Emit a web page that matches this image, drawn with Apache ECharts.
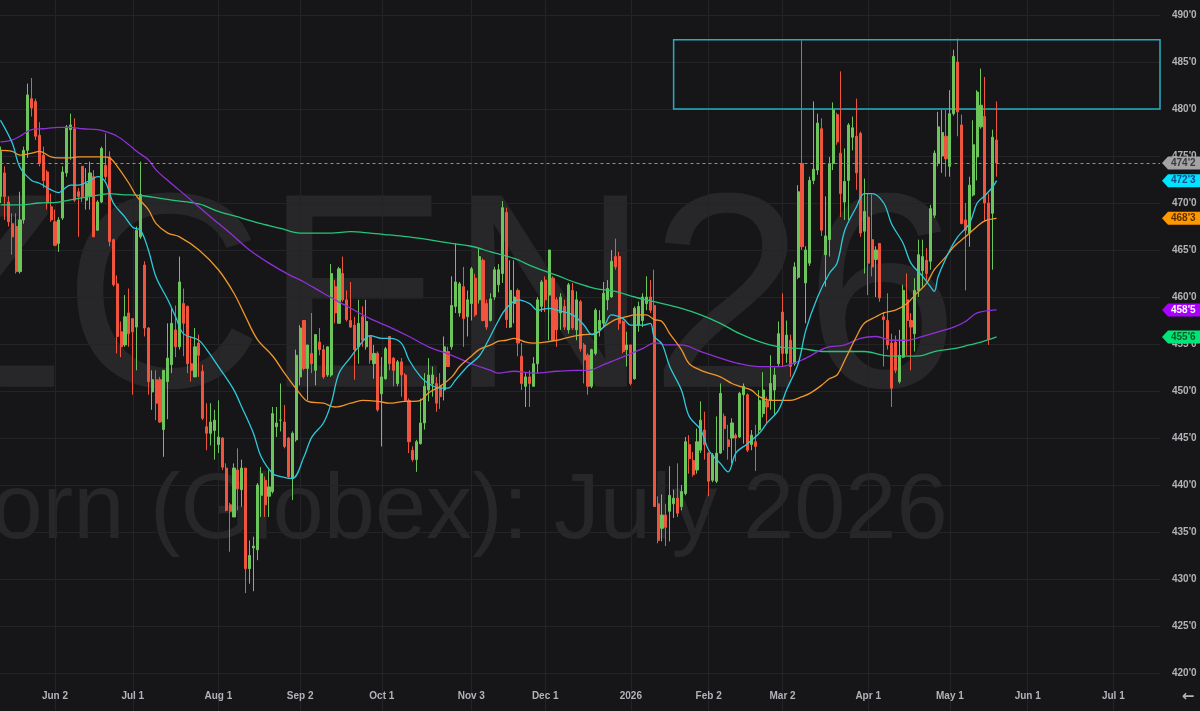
<!DOCTYPE html>
<html><head><meta charset="utf-8">
<script src="https://cdn.jsdelivr.net/npm/echarts@6/dist/echarts.min.js"></script>
<style>html,body{margin:0;padding:0;background:#161618;}#c{width:1200px;height:711px;}</style>
</head><body><div id="c"></div>
<script>
// ---------- data ----------
const firstDay = [2025, 4, 12];          // 2025-05-12 (month 0-based)
const totalSlots = 299;                  // trading-day slots on the axis (incl. future)
const holidays = ['2025-05-26','2025-06-19','2025-07-04','2025-09-01','2025-11-27','2025-12-25',
  '2026-01-01','2026-01-19','2026-02-16','2026-04-03','2026-05-25'];
const monthNames = ['Jan','Feb','Mar','Apr','May','Jun','Jul','Aug','Sep','Oct','Nov','Dec'];

// [open, close, low, high]
const candles = [
[470.7,475.5,470.0,476.0],[473.2,470.7,468.2,473.9],[470.1,468.0,467.5,470.7],[467.8,466.4,464.5,468.9],[467.5,462.7,462.5,468.9],
[462.7,468.2,462.5,471.2],[468.2,475.6,467.8,476.0],[475.6,481.5,474.8,482.7],[481.1,480.1,479.2,483.3],[480.8,477.1,476.7,481.1],
[477.2,474.2,473.9,478.6],[475.1,472.4,471.6,476.0],[473.3,470.0,469.3,473.5],[469.6,468.2,468.0,471.0],[468.0,465.5,465.4,469.3],
[465.7,468.2,464.8,468.5],[468.4,473.3,468.2,473.9],[473.2,478.1,472.8,478.3],[477.8,478.3,474.6,479.5],[477.9,470.3,470.1,479.0],
[471.2,470.7,466.4,471.6],[473.9,470.7,470.1,473.9],[470.3,472.1,469.3,473.7],[470.7,473.2,469.3,474.4],[472.8,466.4,466.4,473.5],
[467.1,470.1,467.1,470.3],[470.1,475.8,470.0,476.0],[474.0,472.8,472.4,477.4],[474.9,465.9,465.4,475.5],[466.1,461.3,461.1,466.2],
[461.4,455.8,454.0,462.3],[456.3,454.7,453.6,457.4],[454.9,457.9,454.7,460.2],[458.3,456.1,454.7,460.9],[457.7,456.3,449.6,457.7],
[456.8,467.1,452.2,467.5],[466.4,470.9,466.2,474.4],[463.4,456.7,455.8,463.8],[456.7,451.0,449.6,456.8],[449.9,451.2,448.0,452.2],
[451.2,448.7,446.9,452.2],[451.2,446.7,446.6,451.5],[445.9,452.2,443.0,452.2],[451.0,453.5,447.0,457.2],[452.8,457.2,451.9,458.8],
[456.5,454.7,453.6,459.1],[454.7,461.6,454.4,464.3],[459.3,457.2,453.7,460.9],[459.0,452.9,451.9,459.1],[452.9,452.2,451.0,455.8],
[451.5,454.7,451.5,456.7],[455.1,453.8,451.5,456.0],[452.1,447.1,446.9,452.8],[446.2,445.5,443.7,448.7],[445.5,446.7,444.2,448.7],
[445.8,446.9,442.7,448.0],[444.3,445.1,443.4,449.0],[445.0,441.9,441.6,445.1],[441.8,437.3,437.2,442.3],[437.9,437.2,432.9,438.1],
[436.6,441.8,436.6,442.3],[441.6,439.6,437.3,443.9],[439.5,441.8,437.7,442.7],[441.8,431.1,428.5,441.8],[431.1,432.5,429.5,434.1],
[433.3,433.5,428.7,434.5],[433.1,440.0,432.0,440.2],[438.9,441.2,436.6,441.9],[440.5,437.9,436.6,440.9],[438.8,439.8,436.6,441.6],
[439.3,447.6,439.1,448.3],[446.2,446.6,445.1,448.3],[446.9,446.9,445.7,450.8],[446.7,444.1,443.9,448.5],[445.0,440.9,440.7,445.1],
[440.7,445.5,438.4,445.7],[444.8,453.8,444.6,454.4],[451.5,456.7,450.6,457.0],[457.5,452.4,452.2,457.5],[452.4,454.9,449.0,454.9],
[454.0,452.9,451.9,458.3],[452.2,456.0,450.6,456.0],[455.2,454.4,453.8,456.7],[454.4,451.5,451.3,454.9],[451.7,454.7,451.5,454.7],
[451.7,462.5,451.5,463.5],[461.1,458.3,457.2,461.8],[457.2,463.0,457.2,463.2],[462.5,459.7,459.5,464.3],[459.7,457.6,457.4,460.7],
[457.5,456.8,456.7,461.6],[457.0,454.4,451.2,457.9],[454.7,457.2,452.9,459.7],[457.9,455.4,454.7,459.0],[454.7,457.4,454.4,459.7],
[455.8,453.3,452.9,455.9],[452.9,454.0,451.3,454.9],[454.0,448.0,447.8,454.2],[449.7,451.5,444.1,453.6],[451.3,454.5,451.2,454.7],
[455.8,452.9,452.2,455.8],[453.5,452.2,450.5,453.6],[450.8,453.1,450.5,453.3],[453.1,451.7,449.4,453.5],[451.7,449.0,448.9,451.9],
[449.0,444.6,443.4,449.2],[443.7,442.7,442.5,444.1],[442.7,444.6,441.4,444.8],[444.4,446.6,444.3,449.2],[446.6,450.5,445.9,451.9],
[450.1,451.7,448.9,453.5],[450.8,451.7,449.4,452.6],[450.8,448.7,447.8,451.5],[450.6,449.4,448.1,451.9],[450.1,454.7,449.0,455.8],
[454.2,452.6,452.6,454.7],[454.7,459.1,454.4,462.2],[459.0,461.6,458.3,465.7],[458.3,461.4,457.9,461.6],[461.1,457.7,454.7,463.2],
[457.9,459.7,455.8,460.7],[459.3,463.0,457.5,463.2],[462.0,458.1,457.9,462.5],[459.7,464.3,459.3,465.2],[463.9,457.5,457.4,464.1],
[459.3,456.8,456.5,459.7],[457.5,459.8,457.4,460.4],[460.0,462.9,459.7,463.2],[461.3,462.9,460.5,463.5],[462.5,469.5,461.5,470.2],
[469.0,457.6,456.7,469.5],[456.8,460.7,456.7,463.9],[459.3,460.0,457.2,463.9],[460.7,455.1,453.7,460.9],[453.7,450.8,450.1,455.1],
[450.5,451.5,448.3,451.9],[451.5,450.8,448.3,452.2],[450.5,452.9,450.5,453.6],[452.9,459.7,451.9,460.0],[459.0,461.6,458.4,461.8],
[461.8,459.7,458.4,462.2],[460.2,465.0,455.4,465.0],[462.0,455.4,455.3,462.2],[459.7,456.5,454.7,460.0],[458.3,460.0,456.5,460.4],
[459.0,456.8,456.5,459.7],[456.5,461.3,456.1,461.5],[460.7,456.7,456.5,461.5],[456.5,459.7,455.4,460.6],[459.5,454.5,454.2,459.7],
[454.9,453.3,450.8,455.1],[453.8,450.5,449.6,454.0],[450.5,454.4,450.3,454.5],[454.0,458.6,453.8,458.8],[456.5,457.5,455.8,458.6],
[457.2,460.4,456.8,461.6],[459.7,460.9,458.6,461.8],[460.0,463.8,459.9,465.0],[464.3,463.2,462.9,466.2],[464.3,457.2,456.5,464.8],
[457.4,454.2,454.0,457.5],[454.4,454.9,452.6,456.3],[454.9,450.8,450.6,454.9],[451.3,458.8,451.2,459.0],[457.0,459.0,456.3,459.5],
[457.5,460.0,456.8,460.4],[459.3,460.0,458.6,462.2],[460.0,458.6,458.3,461.8],[459.1,437.7,437.7,462.9],[438.0,434.1,433.8,438.8],
[435.4,436.8,434.0,439.0],[436.8,435.5,433.5,438.0],[437.2,438.9,434.0,442.0],[438.0,438.6,436.5,439.5],[438.6,437.0,436.6,442.3],
[437.7,439.3,437.3,440.0],[439.1,444.6,438.9,445.1],[444.3,442.8,441.2,445.3],[442.6,441.1,440.9,443.5],[441.6,444.6,441.2,446.0],
[443.7,446.9,443.4,448.9],[445.85,444.3,442.7,447.8],[443.4,440.4,438.8,443.5],[440.5,443.2,440.3,443.4],[440.4,443.4,440.2,447.3],
[443.4,449.75,443.3,450.8],[447.3,446.0,443.7,447.6],[444.8,444.1,442.7,446.4],[445.0,446.6,442.3,447.1],[445.3,445.0,442.5,445.5],
[445.1,449.75,445.0,449.9],[449.6,450.5,444.4,450.8],[449.6,443.7,443.5,449.75],[444.3,445.3,443.7,445.85],[444.6,444.1,441.5,446.4],
[445.85,449.0,445.5,450.1],[447.6,450.1,447.2,452.0],[448.9,448.3,446.6,449.4],[449.0,450.8,448.0,453.8],[450.1,451.7,447.5,452.5],
[452.9,456.1,452.6,457.4],[458.4,454.0,452.6,460.4],[454.0,455.95,453.0,457.5],[455.4,452.6,451.5,456.0],[452.9,463.2,452.7,463.7],
[462.1,471.2,461.9,471.9],[474.2,465.35,465.0,487.3],[461.5,465.0,457.2,465.4],[463.6,472.4,463.3,472.8],[472.4,473.6,472.0,480.8],
[473.5,478.5,473.0,479.5],[477.9,467.1,466.5,479.0],[464.5,466.5,461.1,470.7],[466.1,474.2,464.3,474.9],[474.2,479.9,473.5,480.7],
[479.4,476.5,476.2,479.6],[475.3,471.0,468.5,484.0],[470.1,472.3,468.2,475.8],[472.4,478.3,468.2,478.5],[477.0,478.0,475.6,479.2],
[477.1,473.2,471.4,481.1],[477.4,466.8,466.4,477.6],[467.0,469.1,462.5,472.6],[468.5,463.6,460.2,471.0],[466.1,463.2,462.2,470.9],
[464.0,465.0,460.0,465.4],[465.7,459.9,459.5,465.7],[457.9,457.6,452.6,458.4],[457.5,454.9,454.4,460.4],[455.1,450.3,448.3,456.1],
[455.2,452.2,451.9,455.9],[451.0,453.8,450.8,456.5],[453.6,460.7,453.5,461.3],[459.7,457.5,453.8,462.5],[457.5,456.8,452.2,458.3],
[456.1,460.7,454.2,462.0],[460.7,464.5,460.0,466.1],[462.8,464.3,461.1,466.1],[463.9,462.5,461.8,465.2],[463.8,469.4,462.9,469.8],
[468.7,475.3,468.4,475.6],[474.2,478.1,473.9,479.7],[475.0,477.5,473.2,479.9],[477.1,474.7,472.8,479.9],[473.9,479.5,472.8,482.0],
[479.5,485.6,479.3,486.3],[485.0,479.7,477.1,487.5],[478.3,467.8,467.8,479.4],[468.2,467.1,460.7,470.0],[466.8,471.9,465.35,472.8],
[470.85,476.2,470.7,478.8],[474.9,481.8,472.4,482.0],[478.1,480.4,477.9,484.3],[479.2,470.0,468.0,483.4],[470.0,455.5,454.9,471.0],
[468.9,477.0,462.9,477.8],[476.7,474.25,472.8,480.8]
];

// moving averages: [slot index, value]
const maFast = [[0,478.8],[3,476.4],[5,473.8],[8,472.4],[10,472.1],[13,471.4],[15,471.1],[16,471.4],[18,471.9],[20,471.9],[23,472.4],[25,472.8],[27,472.2],[29,470.0],[32,468.5],[34,467.4],[36,467.1],[38,465.0],[40,462.1],[43,459.7],[45,457.9],[47,456.1],[51,455.4],[53,454.4],[56,452.6],[60,450.1],[62,448.3],[65,445.5],[67,443.0],[70,441.2],[72,440.9],[75,440.7],[78,443.0],[80,445.1],[83,446.6],[85,448.7],[87,451.9],[90,453.6],[92,454.7],[95,455.9],[98,455.6],[100,455.6],[103,455.1],[105,453.3],[108,451.5],[110,450.8],[113,450.3],[115,450.3],[117,451.2],[120,452.6],[123,453.7],[125,455.1],[128,457.5],[130,458.8],[133,459.7],[136,459.3],[138,458.6],[141,458.8],[143,458.6],[147,458.1],[150,457.0],[152,456.0],[155,456.8],[157,458.1],[160,457.7],[162,457.0],[165,457.0],[167,457.2],[168,455.8],[170,455.0],[172,452.6],[175,450.1],[177,447.3],[180,445.85],[182,443.7],[185,442.3],[187,441.4],[189,443.4],[192,444.4],[195,445.5],[197,446.6],[200,448.0],[202,450.1],[205,452.9],[207,456.5],[210,460.0],[213,462.5],[215,463.6],[217,467.1],[220,469.6],[222,471.0],[224,471.0],[227,470.0],[229,467.8],[232,465.7],[234,463.6],[237,462.2],[239,461.1],[240,460.6],[241,462.2],[244,465.0],[246,466.4],[249,467.8],[251,470.0],[253,470.8],[255,471.7],[256,472.375]];
const maMid = [[0,475.6],[3,475.5],[5,475.1],[8,475.3],[10,475.5],[13,474.9],[15,474.8],[18,474.8],[20,474.9],[23,474.9],[26,474.9],[28,474.8],[30,473.9],[33,472.1],[35,470.7],[38,469.3],[40,467.8],[43,466.8],[46,466.4],[51,465.0],[56,462.9],[60,460.4],[63,457.9],[66,455.5],[70,453.7],[73,451.9],[77,449.7],[79,448.9],[83,448.7],[86,448.3],[90,448.7],[93,449.0],[97,448.9],[100,448.7],[104,448.9],[106,448.9],[108,449.0],[110,449.8],[113,450.5],[116,451.5],[118,452.6],[121,453.7],[123,454.4],[126,454.9],[128,455.3],[130,455.4],[132,455.6],[135,455.2],[137,455.1],[140,455.2],[143,455.4],[145,455.6],[148,455.9],[150,456.0],[153,456.1],[155,456.8],[158,457.6],[161,457.9],[163,458.1],[166,458.1],[168,457.6],[170,457.4],[172,456.1],[175,454.4],[177,452.9],[180,452.2],[182,451.9],[185,451.5],[188,450.8],[190,450.5],[193,450.1],[195,449.4],[198,449.0],[200,449.0],[203,449.0],[206,449.4],[208,449.75],[211,450.6],[213,451.3],[215,451.7],[217,453.3],[220,455.8],[222,457.2],[225,457.9],[227,458.3],[230,458.6],[233,459.3],[235,460.2],[238,461.45],[240,462.9],[243,464.3],[245,465.35],[248,466.4],[251,467.5],[253,468.1],[256,468.375]];
const maSlow = [[0,476.5],[3,476.7],[5,477.1],[8,477.8],[11,477.9],[15,478.05],[18,478.05],[21,477.9],[25,477.8],[27,477.6],[30,477.1],[33,476.2],[35,475.5],[38,474.6],[40,473.5],[43,472.4],[49,470.3],[54,468.5],[59,466.8],[64,465.0],[69,463.6],[74,462.4],[78,461.6],[83,460.4],[86,459.7],[90,458.8],[95,457.7],[100,456.8],[105,455.8],[110,454.7],[116,453.8],[121,452.9],[126,452.2],[128,451.9],[132,452.1],[137,451.9],[143,452.1],[148,452.2],[151,452.2],[155,452.8],[158,453.3],[161,453.8],[165,454.5],[168,455.1],[169,455.1],[171,454.9],[175,454.9],[180,454.2],[185,453.5],[190,452.9],[195,452.6],[200,452.6],[206,453.3],[211,454.4],[213,454.7],[217,454.9],[221,455.6],[225,455.8],[229,455.4],[233,455.4],[237,455.8],[241,456.3],[245,456.8],[248,457.4],[251,458.3],[256,458.625]];
const maLong = [[0,469.8],[5,469.8],[10,470.0],[15,470.1],[20,470.5],[26,470.9],[28,471.0],[31,470.9],[36,470.8],[41,470.5],[44,470.3],[51,469.9],[56,469.1],[62,468.4],[67,467.8],[72,467.3],[77,466.8],[85,466.8],[90,466.95],[95,466.8],[100,466.6],[105,466.4],[110,466.1],[116,465.7],[121,465.4],[126,464.8],[132,464.1],[137,463.2],[143,462.3],[148,461.5],[153,460.9],[158,460.6],[163,460.0],[168,459.5],[175,458.8],[180,458.1],[185,457.2],[190,456.1],[195,455.25],[200,454.7],[206,454.5],[212,454.2],[217,454.2],[222,454.2],[227,453.8],[233,453.7],[237,453.8],[240,454.2],[245,454.5],[249,454.9],[252,455.2],[256,455.75]];

const tagValues = [474.25, 472.375, 468.375, 458.625, 455.75];
const tagBg = ['#a3a3a6', '#00e5ff', '#ff9800', '#aa00ff', '#00e676'];
const tagFg = ['#3a3a3c', '#144a8c', '#5a3000', '#ffffff', '#0b5a2c'];
const zone = { start: 173, end: 298, top: 487.375, bottom: 480 };
const yMin = 415, yMax = 495, yStep = 5;
const watermark1 = 'ZCEN26';
const watermark2 = 'Corn (Globex): July 2026';

// ---------- helpers ----------
const C = { bg:'#161618', grid:'#242427', text:'#b2b3b8', up:'#6cc55a', down:'#f0543c',
  fast:'#2ccbdc', mid:'#f0962a', slow:'#9030d6', long:'#26c57a', zone:'#26aebf', wm:'#27272a' };
function pad(n){ return n < 10 ? '0' + n : '' + n; }
const categories = [];
{
  const d = new Date(Date.UTC(firstDay[0], firstDay[1], firstDay[2]));
  while (categories.length < totalSlots) {
    const wd = d.getUTCDay();
    const s = d.getUTCFullYear() + '-' + pad(d.getUTCMonth() + 1) + '-' + pad(d.getUTCDate());
    if (wd !== 0 && wd !== 6 && holidays.indexOf(s) < 0) categories.push(s);
    d.setUTCDate(d.getUTCDate() + 1);
  }
}
function isMonthStart(i){ return i > 0 && categories[i].slice(5,7) !== categories[i-1].slice(5,7); }
function dateLabel(s){
  const y = +s.slice(0,4), m = +s.slice(5,7) - 1, d = +s.slice(8,10);
  return m === 0 ? String(y) : monthNames[m] + ' ' + d;
}
function fmtPrice(v){ const w = Math.floor(v + 1e-9); return w + "'" + Math.round((v - w) * 8); }
const lastClose = candles[candles.length - 1][1];
const font = '"Liberation Sans", Arial, sans-serif';

const chart = echarts.init(document.getElementById('c'), null, { renderer: 'canvas' });
function maSeries(data, color){
  return { type:'line', data, smooth:0.35, showSymbol:false, symbol:'none', silent:true, z:4,
    lineStyle:{ color, width:1.3 } };
}
chart.setOption({
  animation:false,
  backgroundColor:C.bg,
  grid:{ left:0.5, right:40, top:-32, bottom:-9, containLabel:false, outerBoundsMode:'none' },
  xAxis:{ type:'category', data:categories, boundaryGap:false, offset:-37,
    axisLine:{show:false}, axisTick:{show:false},
    axisLabel:{ interval:(i)=>isMonthStart(i),
      formatter:(v, i)=> isMonthStart(i) ? dateLabel(v) : '',
      color:C.text, fontSize:10, fontWeight:'bold', fontFamily:font, margin:8, hideOverlap:false },
    splitLine:{ show:true, interval:(i)=>isMonthStart(i), lineStyle:{ color:C.grid, width:1 } } },
  yAxis:{ type:'value', position:'right', min:yMin, max:yMax, interval:yStep,
    axisLine:{show:false}, axisTick:{show:false},
    axisLabel:{ formatter:fmtPrice, color:C.text, fontSize:10, fontWeight:'bold', fontFamily:font, margin:12 },
    splitLine:{ lineStyle:{ color:C.grid, width:1 } } },
  graphic:[
    { type:'text', x:-107, y:310, z:-1, silent:true,
      style:{ text:watermark1, font:'278px ' + font, fill:C.wm, align:'left', verticalAlign:'middle' } },
    { type:'text', x:-75, y:513, z:-1, silent:true,
      style:{ text:watermark2, font:'92px ' + font, fill:C.wm, align:'left', verticalAlign:'middle' } },
    { type:'text', x:1188, y:697, silent:true,
      style:{ text:'\u2190', font:'bold 15px "DejaVu Sans", sans-serif', fill:C.text, align:'center', verticalAlign:'middle' } }
  ],
  series:[
    { type:'candlestick', data:candles, barWidth:2.6, z:3,
      itemStyle:{ color:C.up, color0:C.down, borderColor:C.up, borderColor0:C.down, borderWidth:1 },
      markLine:{ silent:true, symbol:['none','none'], label:{show:false},
        lineStyle:{ color:'#8e9096', type:[3,3], width:1 }, data:[{ yAxis:lastClose }] },
      markArea:{ silent:true, itemStyle:{ color:'rgba(0,0,0,0)', borderColor:C.zone, borderWidth:1.5 },
        data:[[{ xAxis:categories[zone.start], yAxis:zone.top }, { xAxis:categories[zone.end], yAxis:zone.bottom }]] } },
    maSeries(maLong, C.long),
    maSeries(maSlow, C.slow),
    maSeries(maMid, C.mid),
    maSeries(maFast, C.fast),
    { type:'custom', z:10, silent:true, clip:false,
      data:tagValues.map(v => [0, v]), encode:{ x:0, y:1 },
      renderItem:(params, api) => {
        const i = params.dataIndex;
        const y = api.coord([0, api.value(1)])[1];
        const cs = params.coordSys;
        const x0 = cs.x + cs.width;
        const xr = api.getWidth();
        return { type:'group', children:[
          { type:'polygon', shape:{ points:[[x0+2,y],[x0+8,y-6.5],[xr,y-6.5],[xr,y+6.5],[x0+8,y+6.5]] },
            style:{ fill:tagBg[i] } },
          { type:'text', x:x0+11, y:y, style:{ text:fmtPrice(tagValues[i]), fill:tagFg[i],
            font:'bold 10px ' + font, align:'left', verticalAlign:'middle' } }
        ] };
      } }
  ]
});
</script>
</body></html>
